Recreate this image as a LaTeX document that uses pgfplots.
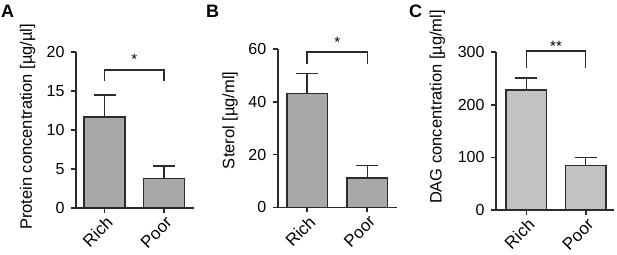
\documentclass[border=0pt]{standalone}
\usepackage{pgfplots}
\pgfplotsset{compat=1.18}
\usepackage{fontspec}
\setmainfont{Liberation Sans}
\definecolor{barA}{HTML}{A8A8A8}
\definecolor{barC}{HTML}{C2C2C2}
\definecolor{edge}{HTML}{2B2B2B}
\pgfplotsset{
  panel/.style={
    scale only axis, clip=false,
    anchor=south west,
    axis lines=left,
    axis line style={-, line width=1.6pt, edge},
    ymin=0,
    xtick={0,1}, xticklabels={Rich,Poor},
    xtick align=outside, ytick align=outside,
    tickwidth=5pt,
    tick style={draw=edge, line width=1.6pt},
    unbounded coords=jump,
    tick label style={font=\fontsize{16}{19}\selectfont},
    y tick label style={xshift=-3pt},
    x tick label style={rotate=45, anchor=north east, inner sep=1pt, yshift=-1pt, font=\fontsize{17}{19}\selectfont},
    ylabel style={font=\fontsize{16.5}{19}\selectfont, anchor=center, rotate=0},
    /pgf/number format/assume math mode=true,
  },
  errbar/.style={error bars/.cd, y dir=plus, y explicit,
    error bar style={line width=1.4pt, edge},
    error mark options={rotate=90, line width=1.4pt, edge, mark size=11pt}},
  bracket/.style={sharp plot, edge, line width=1.5pt, mark=none, forget plot},
  tickline/.style={sharp plot, edge, line width=1.6pt, mark=none, forget plot},
}
\begin{document}
\begin{tikzpicture}
\path[use as bounding box] (0,0) rectangle (617pt,254pt);
% Panel A
\begin{axis}[panel, at={(76pt,46pt)}, width=118pt, height=156pt,
  xmin=-0.479, xmax=1.504, ymax=20, ytick={0,5,10,15,20},
  ylabel={Protein concentration [µg/µl]},
  ylabel style={at={(axis description cs:-0.41,0.52)}}]
\addplot[ybar, bar width=0.69, fill=barA, draw=edge, line width=1.6pt, errbar] coordinates {(0,11.7) +- (0,2.8) (1,3.8) +- (0,1.6)};
\addplot[bracket] coordinates {(0,16.3) (0,17.7) (1,17.7) (1,16.3)};
\addplot[tickline] coordinates {(-0.479,0) (-0.563,0) (nan,nan) (-0.479,5) (-0.563,5) (nan,nan) (-0.479,10) (-0.563,10) (nan,nan) (-0.479,15) (-0.563,15) (nan,nan) (-0.479,20) (-0.563,20) (nan,nan) (0,0) (0,-0.64) (nan,nan) (1,0) (1,-0.64)};
\node[font=\fontsize{15}{18}\selectfont] at (axis cs:0.5,19.0) {*};
\end{axis}
% Panel B
\begin{axis}[panel, at={(277.7pt,46.7pt)}, width=119pt, height=158.3pt,
  xmin=-0.49, xmax=1.49, ymax=60, ytick={0,20,40,60},
  ylabel={Sterol [µg/ml]},
  ylabel style={at={(axis description cs:-0.40,0.55)}}]
\addplot[ybar, bar width=0.68, fill=barA, draw=edge, line width=1.6pt, errbar] coordinates {(0,43.2) +- (0,7.6) (1,11.0) +- (0,4.8)};
\addplot[bracket] coordinates {(0,54.3) (0,58.9) (1,58.9) (1,54.3)};
\addplot[tickline] coordinates {(-0.49,0) (-0.573,0) (nan,nan) (-0.49,20) (-0.573,20) (nan,nan) (-0.49,40) (-0.573,40) (nan,nan) (-0.49,60) (-0.573,60) (nan,nan) (0,0) (0,-1.9) (nan,nan) (1,0) (1,-1.9)};
\node[font=\fontsize{15}{18}\selectfont] at (axis cs:0.5,62.5) {*};
\end{axis}
% Panel C
\begin{axis}[panel, at={(496pt,44pt)}, width=118pt, height=157.7pt,
  xmin=-0.51, xmax=1.476, ymax=300, ytick={0,100,200,300},
  ylabel={DAG concentration [µg/ml]},
  ylabel style={at={(axis description cs:-0.496,0.653)}}]
\addplot[ybar, bar width=0.685, fill=barC, draw=edge, line width=1.6pt, errbar] coordinates {(0,228) +- (0,23) (1,85) +- (0,15)};
\addplot[bracket] coordinates {(0,270) (0,302) (1,302) (1,270)};
\addplot[tickline] coordinates {(-0.51,0) (-0.594,0) (nan,nan) (-0.51,100) (-0.594,100) (nan,nan) (-0.51,200) (-0.594,200) (nan,nan) (-0.51,300) (-0.594,300) (nan,nan) (0,0) (0,-9.5) (nan,nan) (1,0) (1,-9.5)};
\node[font=\fontsize{15}{18}\selectfont] at (axis cs:0.5,311) {**};
\end{axis}
\node[font=\fontsize{18}{20}\selectfont\bfseries, anchor=base west, inner sep=0pt] at (1pt,236pt) {A};
\node[font=\fontsize{18}{20}\selectfont\bfseries, anchor=base west, inner sep=0pt] at (206pt,236pt) {B};
\node[font=\fontsize{18}{20}\selectfont\bfseries, anchor=base west, inner sep=0pt] at (409pt,236pt) {C};
\end{tikzpicture}
\end{document}
